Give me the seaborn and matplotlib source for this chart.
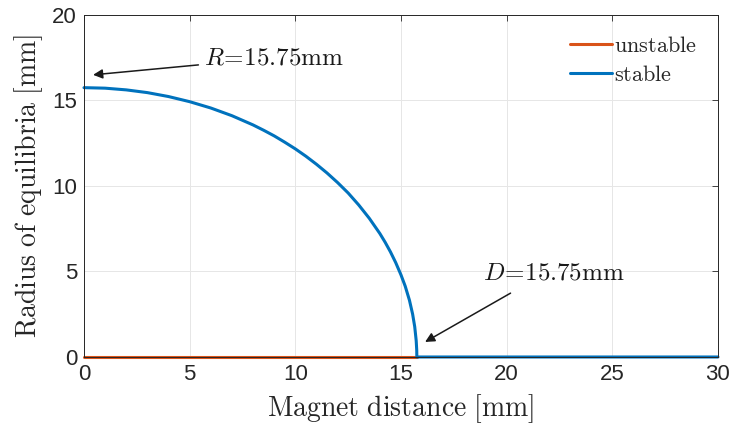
import numpy as np
import pandas as pd
import matplotlib
matplotlib.use("Agg")
import matplotlib.pyplot as plt
import seaborn as sns

# Data
unstable_d = [0, 15.75]
unstable_r = [0, 0]
stable_d = [0, 1, 2, 3, 4, 5, 6, 7, 8, 8.5, 9, 9.5, 10, 10.5, 11, 11.5, 12, 12.5,
            13, 13.5, 14, 14.25, 14.5, 14.75, 15, 15.2, 15.4, 15.55, 15.65,
            15.72, 15.745, 15.75, 30]
stable_r = [15.75, 15.72, 15.62, 15.46, 15.23, 14.93, 14.56, 14.11, 13.57, 13.26,
            12.93, 12.56, 12.17, 11.74, 11.27, 10.76, 10.2, 9.59, 8.89, 8.11,
            7.22, 6.71, 6.15, 5.52, 4.8, 4.14, 3.32, 2.51, 1.77, 0.95, 0.4, 0, 0]
x_ticks = [0, 5, 10, 15, 20, 25, 30]
y_ticks = [0, 5, 10, 15, 20]

df = pd.concat([
    pd.DataFrame({"d": unstable_d, "r": unstable_r, "state": "unstable"}),
    pd.DataFrame({"d": stable_d, "r": stable_r, "state": "stable"}),
], ignore_index=True)

sns.set_theme(style="white")
plt.rcParams["font.family"] = ["Liberation Sans", "DejaVu Sans"]
plt.rcParams["mathtext.fontset"] = "cm"
plt.rcParams["axes.unicode_minus"] = False

fig = plt.figure(figsize=(7.33, 4.28), dpi=100)
ax = fig.add_axes([0.1146, 0.1659, 0.8649, 0.7991])

sns.lineplot(data=df, x="d", y="r", hue="state", hue_order=["unstable", "stable"],
             palette={"unstable": "#D95319", "stable": "#0072BD"},
             sort=False, estimator=None, linewidth=2.2, ax=ax)
for ln in ax.get_lines():
    ln.set_clip_on(False)
    ln.set_solid_joinstyle("round")

ax.set_xlim(0, 30)
ax.set_ylim(0, 20)
ax.set_xticks(x_ticks)
ax.set_yticks(y_ticks)
ax.tick_params(axis="both", direction="in", length=4, width=0.6, color="#262626",
               labelsize=16, labelcolor="#262626", top=True, right=True, pad=5)
ax.grid(True, color="#e6e6e6", linewidth=0.7)
ax.set_axisbelow(True)
for s in ax.spines.values():
    s.set_visible(True)
    s.set_color("#262626")
    s.set_linewidth(0.7)

ax.set_xlabel(r"$\mathrm{Magnet\ distance\ [mm]}$", fontsize=20, color="#262626", labelpad=5)
ax.set_ylabel(r"$\mathrm{Radius\ of\ equilibria\ [mm]}$", fontsize=20, color="#262626", labelpad=5)

leg = ax.legend(loc="upper right", frameon=False, fontsize=16, handlelength=1.9,
                handletextpad=0.1, labelspacing=0.35, borderaxespad=0.55)
for t in leg.get_texts():
    t.set_text(r"$\mathrm{" + t.get_text() + "}$")

ax.annotate(r"$R\!=\!\mathrm{15.75mm}$", xy=(0.43, 16.5), xytext=(5.7, 17.5),
            fontsize=18, va="center", ha="left", color="#1a1a1a",
            arrowprops=dict(arrowstyle="-|>", color="#1a1a1a", lw=1.1,
                            mutation_scale=14, shrinkA=2, shrinkB=0))
ax.annotate(r"$D\!=\!\mathrm{15.75mm}$", xy=(16.14, 0.88), xytext=(18.9, 4.95),
            fontsize=18, va="center", ha="left", color="#1a1a1a",
            arrowprops=dict(arrowstyle="-|>", color="#1a1a1a", lw=1.1,
                            mutation_scale=14, shrinkA=8, shrinkB=0,
                            relpos=(0.3, 0.0)))

fig.savefig("out.png", dpi=100)
